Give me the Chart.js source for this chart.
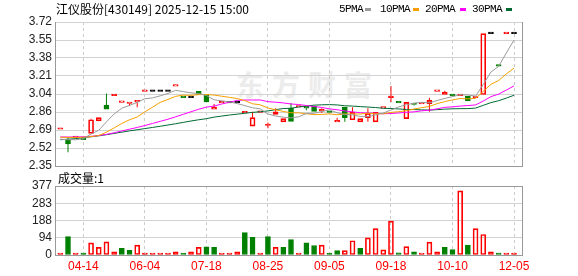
<!DOCTYPE html>
<html>
<head>
<meta charset="utf-8">
<script src="https://cdn.jsdelivr.net/npm/chart.js@4.4.1/dist/chart.umd.min.js"></script>
<style>
html,body{margin:0;padding:0;background:#fff}
#wrap{position:relative;width:578px;height:276px;overflow:hidden}
canvas{position:absolute;left:0}
#price{top:0}
#vol{top:170px}
.txt{position:absolute;font:12px/14px "Noto Sans CJK SC",sans-serif;color:#000;white-space:nowrap}
.lg{position:absolute;top:3px;font:11px/12px "Liberation Mono",monospace;letter-spacing:-0.6px;color:#000;white-space:nowrap}
.sw{position:absolute;top:8px;width:6px;height:3px}
#mark{position:absolute;left:236px;top:69px;font:bold 28px/30px "Noto Sans CJK SC",sans-serif;letter-spacing:8px;color:#ececec;white-space:nowrap}
</style>
</head>
<body>
<div id="wrap">
  <div id="mark">东方财富</div>
  <canvas id="price" width="578" height="170"></canvas>
  <canvas id="vol" width="578" height="106"></canvas>
  <div class="txt" style="left:56px;top:2px">江仪股份[430149] 2025-12-15 15:00</div>
  <div class="txt" id="volTitle" style="left:58px;top:171px"></div>
  <div id="legend"></div>
</div>
<script>
// x axis labels (every 8th candle)
const tickDates = ['04-14', '06-04', '07-18', '08-25', '09-05', '09-18', '10-10', '12-05'];
const tickIndex = [3, 11, 19, 27, 35, 43, 51, 59];

const priceTickLabels = ['2.35', '2.52', '2.69', '2.86', '3.04', '3.21', '3.38', '3.55', '3.72'];
const volTickLabels = ['0', '94', '188', '283', '377'];

const prevClose = 2.62;

const opens = [2.70, 2.60, 2.62, 2.60, 2.66, 2.78, 2.93, 3.02, 2.955, 2.945,
  2.96, 3.06, 3.06, 3.06, 3.06, 3.11, 3.01, 3.00, 3.06, 3.03,
  2.89, 2.95, 2.95, 2.95, 2.855, 2.73, 2.86, 2.735, 2.84, 2.77,
  2.90, 2.91, 2.92, 2.92, 2.875, 2.86, 2.77, 2.91, 2.79, 2.77,
  2.81, 2.77, 2.90, 3.00, 2.95, 2.80, 2.945, 2.94, 2.944, 3.06,
  3.032, 3.02, 3.02, 3.013, 3.00, 3.03, 3.61, 3.30, 3.61, 3.61];
const highs = [2.70, 2.62, 2.62, 2.60, 2.80, 2.81, 3.04, 3.03, 2.96, 2.95,
  2.96, 3.06, 3.06, 3.06, 3.06, 3.11, 3.01, 3.00, 3.06, 3.03,
  2.94, 2.95, 2.95, 2.95, 2.86, 2.865, 2.86, 2.765, 2.90, 2.80,
  2.95, 2.91, 2.92, 2.92, 2.90, 2.86, 2.81, 2.91, 2.91, 2.80,
  2.90, 2.86, 2.90, 3.11, 2.95, 2.955, 2.945, 2.94, 3.00, 3.06,
  3.065, 3.02, 3.03, 3.013, 3.00, 3.61, 3.61, 3.30, 3.61, 3.61];
const lows = [2.70, 2.48, 2.62, 2.60, 2.66, 2.78, 2.89, 3.02, 2.955, 2.92,
  2.91, 3.06, 3.06, 3.06, 3.06, 3.11, 3.00, 3.00, 3.03, 2.96,
  2.89, 2.95, 2.95, 2.95, 2.855, 2.73, 2.86, 2.71, 2.84, 2.77,
  2.775, 2.91, 2.88, 2.87, 2.855, 2.86, 2.77, 2.77, 2.79, 2.77,
  2.77, 2.77, 2.90, 2.96, 2.95, 2.80, 2.925, 2.94, 2.865, 3.06,
  3.032, 3.02, 3.02, 2.968, 3.00, 3.03, 3.61, 3.30, 3.61, 3.61];
const closes = [2.70, 2.56, 2.62, 2.60, 2.79, 2.81, 2.89, 3.02, 2.96, 2.95,
  2.96, 3.06, 3.06, 3.06, 3.06, 3.11, 3.00, 3.00, 3.03, 2.96,
  2.91, 2.95, 2.95, 2.95, 2.86, 2.81, 2.86, 2.74, 2.865, 2.80,
  2.775, 2.91, 2.90, 2.87, 2.88, 2.86, 2.775, 2.81, 2.86, 2.80,
  2.85, 2.86, 2.90, 3.00, 2.95, 2.955, 2.935, 2.94, 2.975, 3.06,
  3.054, 3.02, 3.03, 2.968, 3.00, 3.61, 3.61, 3.30, 3.61, 3.61];
const volumes = [5, 100, 4, 6, 66, 42, 72, 18, 36, 26,
  54, 4, 3, 3, 3, 18, 6, 18, 42, 44,
  42, 5, 4, 18, 122, 96, 5, 101, 42, 42,
  84, 5, 66, 52, 54, 6, 24, 24, 78, 36,
  94, 144, 28, 185, 12, 46, 18, 5, 70, 18,
  42, 30, 350, 54, 144, 112, 18, 6, 4, 1];

const ma5 = [2.605, 2.600, 2.600, 2.610, 2.654, 2.690, 2.770, 2.845, 2.900, 2.926,
  2.956, 2.990, 2.998, 3.018, 3.040, 3.070, 3.058, 3.046, 3.040, 3.020,
  2.980, 2.970, 2.960, 2.944, 2.924, 2.904, 2.894, 2.844, 2.826, 2.814,
  2.808, 2.818, 2.850, 2.852, 2.868, 2.884, 2.857, 2.839, 2.837, 2.821,
  2.819, 2.836, 2.854, 2.882, 2.912, 2.933, 2.948, 2.956, 2.951, 2.973,
  2.993, 3.010, 3.028, 3.026, 3.014, 3.126, 3.244, 3.298, 3.426, 3.548];
const ma10 = [2.624, 2.622, 2.622, 2.624, 2.630, 2.640, 2.672, 2.712, 2.755, 2.790,
  2.816, 2.866, 2.910, 2.956, 2.983, 3.013, 3.024, 3.022, 3.029, 3.030,
  3.025, 3.014, 3.003, 2.992, 2.972, 2.942, 2.932, 2.902, 2.885, 2.869,
  2.856, 2.856, 2.847, 2.839, 2.841, 2.846, 2.838, 2.845, 2.845, 2.845,
  2.852, 2.847, 2.847, 2.860, 2.867, 2.876, 2.892, 2.905, 2.917, 2.943,
  2.963, 2.979, 2.992, 2.989, 2.994, 3.060, 3.127, 3.163, 3.226, 3.281];
const ma20 = [2.626, 2.626, 2.626, 2.628, 2.632, 2.640, 2.651, 2.666, 2.683, 2.700,
  2.717, 2.735, 2.755, 2.775, 2.795, 2.818, 2.842, 2.866, 2.890, 2.910,
  2.920, 2.940, 2.957, 2.974, 2.978, 2.978, 2.978, 2.962, 2.957, 2.950,
  2.940, 2.935, 2.925, 2.916, 2.907, 2.894, 2.885, 2.874, 2.865, 2.857,
  2.854, 2.852, 2.847, 2.850, 2.854, 2.861, 2.865, 2.875, 2.881, 2.894,
  2.908, 2.913, 2.920, 2.925, 2.931, 2.968, 3.010, 3.034, 3.072, 3.112];
const ma30 = [2.600, 2.605, 2.610, 2.620, 2.628, 2.637, 2.648, 2.660, 2.672, 2.684,
  2.695, 2.706, 2.717, 2.728, 2.740, 2.752, 2.765, 2.778, 2.790, 2.800,
  2.815, 2.825, 2.835, 2.843, 2.852, 2.860, 2.866, 2.874, 2.886, 2.897,
  2.899, 2.912, 2.920, 2.929, 2.932, 2.934, 2.931, 2.923, 2.920, 2.915,
  2.911, 2.906, 2.899, 2.897, 2.893, 2.888, 2.887, 2.884, 2.882, 2.886,
  2.891, 2.894, 2.896, 2.896, 2.901, 2.927, 2.953, 2.971, 2.996, 3.023];

const maNames = ['5PMA', '10PMA', '20PMA', '30PMA'];
const maColors = ['#9a9a9a', '#f5a000', '#ff00ff', '#006a32'];

const RED = '#ff0000', GREEN = '#008000', BLACK = '#000000';

function candleColor(i) {
  const o = opens[i], c = closes[i];
  if (c > o) return RED;
  if (c < o) return GREEN;
  const p = i ? closes[i - 1] : prevClose;
  return c > p ? RED : (c < p ? GREEN : BLACK);
}
function volUp(i) {
  const p = i ? closes[i - 1] : prevClose;
  return closes[i] >= p;
}

// legend + volume title
const lgLeft = [339, 380, 425, 472];
const swLeft = [365, 413, 460, 506];
let lgHtml = '';
maNames.forEach((n, k) => {
  lgHtml += '<div class="lg" style="left:' + lgLeft[k] + 'px">' + n + '</div>';
  lgHtml += '<div class="sw" style="left:' + swLeft[k] + 'px;background:' + maColors[k] + '"></div>';
});
document.getElementById('legend').innerHTML = lgHtml;
document.getElementById('volTitle').textContent = '成交量:' + volumes[volumes.length - 1];

Chart.defaults.font.family = '"Liberation Sans", Arial, sans-serif';
Chart.defaults.font.size = 12;

const xMin = -0.56, xMax = 60.04;

function xAxis(showLabels) {
  return {
    type: 'linear', min: xMin, max: xMax, offset: false,
    afterBuildTicks: s => { s.ticks = tickIndex.map(v => ({ value: v })); },
    afterFit: s => { s.height = showLabels ? 21 : 0; s.paddingLeft = 0; s.paddingRight = 0; },
    grid: { color: '#cccccc', offset: false, drawTicks: false },
    border: { display: false, dash: [3, 3] },
    ticks: {
      display: showLabels, color: RED, padding: 4, maxRotation: 0, autoSkip: false,
      callback: (v, k) => tickDates[k]
    }
  };
}

function yAxis(min, max, labels) {
  return {
    type: 'linear', position: 'left', min: min, max: max,
    afterBuildTicks: s => {
      s.ticks = labels.map((t, k) => ({ value: min + k * (max - min) / (labels.length - 1) }));
    },
    afterFit: s => { s.width = 56; s.paddingTop = 0; s.paddingBottom = 0; },
    grid: { color: '#d2d2d2', drawTicks: false },
    border: { display: false },
    ticks: { color: '#222', padding: 4, autoSkip: false, callback: (v, k) => labels[k] }
  };
}

function framePlugin(topDark) {
  return {
    id: 'frame',
    afterDraw(chart) {
      const { ctx, chartArea: a } = chart;
      ctx.save();
      ctx.strokeStyle = '#999';
      ctx.lineWidth = 1;
      ctx.beginPath();
      ctx.moveTo(a.left - 0.5, a.top);
      ctx.lineTo(a.left - 0.5, a.bottom + 1);
      ctx.moveTo(a.right + 0.5, a.top);
      ctx.lineTo(a.right + 0.5, a.bottom + 1);
      ctx.moveTo(a.left - 1, a.bottom + 0.5);
      ctx.lineTo(a.right + 1, a.bottom + 0.5);
      if (topDark) {
        ctx.moveTo(a.left - 1, a.top + 0.5);
        ctx.lineTo(a.right + 1, a.top + 0.5);
      }
      ctx.stroke();
      ctx.restore();
    }
  };
}

const idxColor = fn => ctx => (ctx.dataIndex === undefined ? RED : fn(ctx.dataIndex));

const maSets = [ma5, ma10, ma20, ma30].map((arr, k) => ({
  type: 'line',
  data: arr.map((v, i) => ({ x: i, y: v })),
  borderColor: maColors[k],
  borderWidth: 1,
  pointRadius: 0,
  tension: 0,
  order: 0
}));

new Chart(document.getElementById('price'), {
  type: 'bar',
  data: {
    datasets: [
      ...maSets,
      {
        data: closes.map((c, i) => ({ x: i, y: [opens[i], c] })),
        barThickness: 5, grouped: false, minBarLength: 1.5,
        borderWidth: 1, borderSkipped: false,
        borderColor: idxColor(candleColor),
        backgroundColor: idxColor(i => candleColor(i) === RED ? 'rgba(0,0,0,0)' : candleColor(i)),
        order: 1
      },
      {
        data: closes.map((c, i) => ({ x: i, y: [Math.max(opens[i], c), highs[i]] })),
        barThickness: 1, grouped: false, borderWidth: 0, inflateAmount: 0,
        backgroundColor: idxColor(candleColor), order: 2
      },
      {
        data: closes.map((c, i) => ({ x: i, y: [lows[i], Math.min(opens[i], c)] })),
        barThickness: 1, grouped: false, borderWidth: 0, inflateAmount: 0,
        backgroundColor: idxColor(candleColor), order: 2
      }
    ]
  },
  options: {
    responsive: false, animation: false, events: [],
    layout: { padding: { left: 0, right: 56, top: 22, bottom: 4 } },
    plugins: { legend: { display: false }, tooltip: { enabled: false } },
    scales: { x: xAxis(false), y: yAxis(2.35, 3.72, priceTickLabels) }
  },
  plugins: [framePlugin(false)]
});

new Chart(document.getElementById('vol'), {
  type: 'bar',
  data: {
    datasets: [{
      data: volumes.map((v, i) => ({ x: i, y: v })),
      barThickness: 5, minBarLength: 2,
      borderWidth: 1, borderSkipped: false,
      borderColor: idxColor(i => volUp(i) ? RED : GREEN),
      backgroundColor: idxColor(i => volUp(i) ? 'rgba(0,0,0,0)' : GREEN)
    }]
  },
  options: {
    responsive: false, animation: false, events: [],
    layout: { padding: { left: 0, right: 56, top: 16, bottom: 0 } },
    plugins: { legend: { display: false }, tooltip: { enabled: false } },
    scales: { x: xAxis(true), y: yAxis(0, 377, volTickLabels) }
  },
  plugins: [framePlugin(true)]
});
</script>
</body>
</html>
